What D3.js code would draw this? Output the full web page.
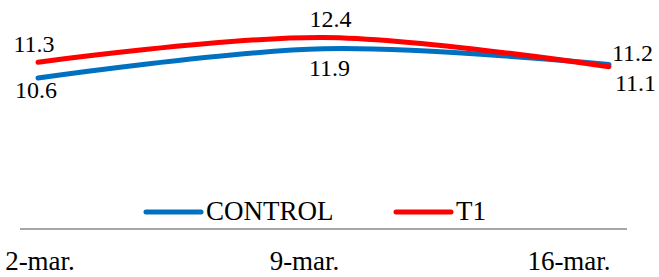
<!DOCTYPE html>
<html>
<head>
<meta charset="utf-8">
<script src="https://cdn.jsdelivr.net/npm/d3@7"></script>
</head>
<body style="margin:0">
<svg id="chart" width="659" height="277"></svg>
<script>
const categories = ["2-mar.", "9-mar.", "16-mar."];
const controlValues = [10.6, 11.9, 11.2];
const t1Values = [11.3, 12.4, 11.1];
const seriesNames = ["CONTROL", "T1"];
const seriesColors = ["#0070C0", "#FF0000"];

const FONT = "Liberation Serif";
const svg = d3.select("#chart");

const x = d3.scalePoint().domain(categories).range([38, 609]);
const xTick = d3.scalePoint().domain(categories).range([40, 569]);
const y = d3.scaleLinear().domain([10, 13]).range([91.5, 24]);

const series = [
  { name: seriesNames[0], color: seriesColors[0], values: controlValues,
    lab: [[-2, 20, "middle"], [6, 27, "middle"], [3, -4, "start"]] },
  { name: seriesNames[1], color: seriesColors[1], values: t1Values,
    lab: [[-4, -10, "middle"], [7, -11, "middle"], [6, 24, "start"]] }
];

svg.append("line")
  .attr("x1", 20).attr("x2", 627)
  .attr("y1", 229).attr("y2", 229)
  .attr("stroke", "#a6a6a6").attr("stroke-width", 2);

svg.selectAll("text.tick").data(categories).join("text")
  .attr("class", "tick")
  .attr("x", d => xTick(d)).attr("y", 270)
  .attr("text-anchor", "middle")
  .attr("font-size", 27)
  .attr("font-family", FONT)
  .text(d => d);

const line = d3.line()
  .x((d, i) => x(categories[i]))
  .y(d => y(d))
  .curve(d3.curveCatmullRom.alpha(0.5));

series.forEach(s => {
  svg.append("path")
    .attr("d", line(s.values))
    .attr("fill", "none")
    .attr("stroke", s.color)
    .attr("stroke-width", 5)
    .attr("stroke-linecap", "round")
    .attr("stroke-linejoin", "round");
});

series.forEach((s, k) => {
  svg.selectAll("text.lab" + k).data(s.values).join("text")
    .attr("class", "lab" + k)
    .attr("x", (d, i) => x(categories[i]) + s.lab[i][0])
    .attr("y", (d, i) => y(d) + s.lab[i][1])
    .attr("text-anchor", (d, i) => s.lab[i][2])
    .attr("font-size", 24)
    .attr("font-family", FONT)
    .text(d => d3.format(".1f")(d));
});

const legendX = [146, 396];
series.forEach((s, i) => {
  svg.append("line").attr("x1", legendX[i]).attr("x2", legendX[i] + 55).attr("y1", 212).attr("y2", 212)
    .attr("stroke", s.color).attr("stroke-width", 5).attr("stroke-linecap", "round");
  svg.append("text").attr("x", legendX[i] + 60).attr("y", 220)
    .attr("font-size", 27)
    .attr("font-family", FONT)
    .text(s.name);
});
</script>
</body>
</html>
